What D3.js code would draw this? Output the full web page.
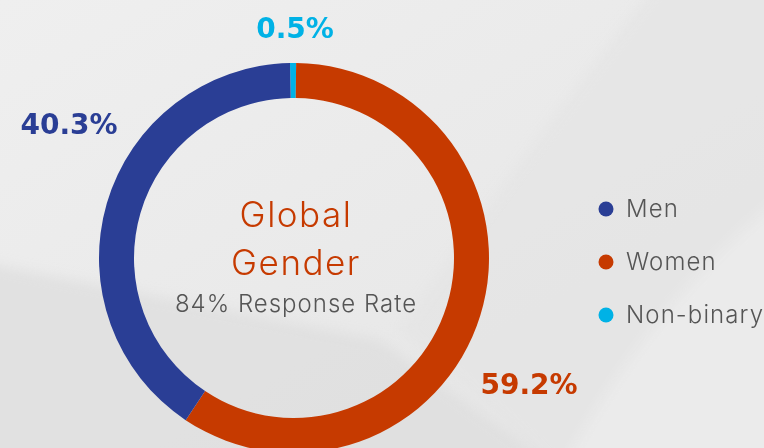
<!DOCTYPE html>
<html><head><meta charset="utf-8">
<script src="https://cdn.jsdelivr.net/npm/d3@7"></script>
<style>html,body{margin:0;padding:0;background:#e9e9e9;overflow:hidden}</style>
</head><body>
<svg id="chart" width="764" height="448"></svg>
<script>
const categories = ["Non-binary", "Women", "Men"];
const values = [0.5, 59.2, 40.3];
const labels = ["0.5%", "59.2%", "40.3%"];
const legendOrder = ["Men", "Women", "Non-binary"];
const colors = {"Men": "#2a3e95", "Women": "#c63a00", "Non-binary": "#00b2e6"};
const titleLines = ["Global", "Gender"];
const subtitle = "84% Response Rate";

const W = 764, H = 448;
const svg = d3.select("#chart");

// background
const defs = svg.append("defs");
const g1 = defs.append("linearGradient").attr("id","bg").attr("x1","0").attr("y1","0").attr("x2","1").attr("y2","1");
g1.append("stop").attr("offset","0").attr("stop-color","#efefef");
g1.append("stop").attr("offset","0.6").attr("stop-color","#e9e9e9");
g1.append("stop").attr("offset","1").attr("stop-color","#e5e5e5");
defs.append("filter").attr("id","soft").attr("x","-20%").attr("y","-20%").attr("width","140%").attr("height","140%")
  .append("feGaussianBlur").attr("stdDeviation", 6);
svg.append("rect").attr("width",W).attr("height",H).attr("fill","url(#bg)");
const bgG = svg.append("g").attr("filter","url(#soft)");
bgG.append("path").attr("d","M-20,262 Q200,305 380,340 L560,470 L-20,470 Z").attr("fill","#dddddd").attr("opacity",0.75);
bgG.append("path").attr("d","M660,-20 Q520,160 400,330 L560,470 L790,470 L790,-20 Z").attr("fill","#e4e4e4").attr("opacity",0.7);
bgG.append("path").attr("d","M790,190 Q650,300 560,470 L790,470 Z").attr("fill","#ebebeb").attr("opacity",0.9);

// donut
const cx = 294, cy = 258, rOuter = 195, rInner = 160;
const startOffset = Math.asin(-4 / rOuter);
const pie = d3.pie().sort(null).value(d => d.v)
  .startAngle(startOffset).endAngle(startOffset + 2 * Math.PI);
const data = categories.map((c, i) => ({c, v: values[i], label: labels[i]}));
const arcs = pie(data);
const arc = d3.arc().innerRadius(rInner).outerRadius(rOuter);
const gD = svg.append("g").attr("transform", `translate(${cx},${cy})`);
gD.selectAll("path").data(arcs).join("path")
  .attr("d", arc).attr("fill", d => colors[d.data.c]);

// percentage labels
const labelPos = {"Non-binary": [295, 38], "Men": [69, 134], "Women": [529, 394]};
svg.selectAll("text.pct").data(data).join("text").attr("class","pct")
  .attr("x", d => labelPos[d.c][0]).attr("y", d => labelPos[d.c][1])
  .attr("text-anchor","middle")
  .attr("font-family","'DejaVu Sans', sans-serif").attr("font-weight","bold")
  .attr("font-size", 28).attr("fill", d => colors[d.c])
  .text(d => d.label);

// center text
svg.selectAll("text.title").data(titleLines).join("text").attr("class","title")
  .attr("x", 296).attr("y", (d,i) => 227 + i*48)
  .attr("text-anchor","middle")
  .attr("font-family","Inter, sans-serif").attr("font-weight", 300)
  .attr("font-size", 35).attr("letter-spacing", 1.5).attr("fill", "#c63a00")
  .text(d => d);
svg.append("text").attr("x", 296).attr("y", 312).attr("text-anchor","middle")
  .attr("font-family","Inter, sans-serif").attr("font-weight", 300)
  .attr("font-size", 24).attr("letter-spacing", 1).attr("fill", "#555")
  .text(subtitle);

// legend
const lg = svg.append("g");
const yL = d3.scalePoint().domain(legendOrder).range([209, 315]);
lg.selectAll("circle").data(legendOrder).join("circle")
  .attr("cx", 606).attr("cy", d => yL(d)).attr("r", 7.5).attr("fill", d => colors[d]);
lg.selectAll("text").data(legendOrder).join("text")
  .attr("x", 626).attr("y", d => yL(d) + 8)
  .attr("font-family","Inter, sans-serif").attr("font-weight", 300)
  .attr("font-size", 24).attr("letter-spacing", 1.1).attr("fill", "#555")
  .text(d => d);
</script>
</body></html>
